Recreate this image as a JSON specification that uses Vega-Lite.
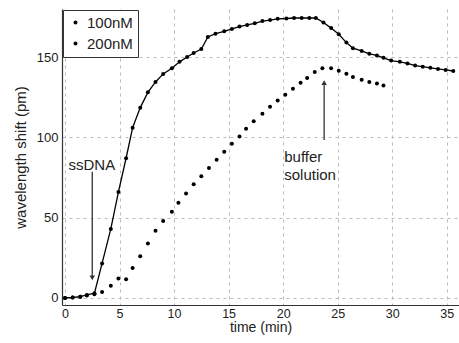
{
  "$schema": "https://vega.github.io/schema/vega-lite/v6.json",
  "width": 397,
  "height": 296,
  "autosize": {"type": "none"},
  "padding": {"left": 62, "top": 9, "right": 0, "bottom": 38},
  "background": "white",
  "config": {
    "view": {"stroke": null},
    "font": "Liberation Sans",
    "axis": {
      "labelFont": "Liberation Sans",
      "labelFontSize": 13,
      "labelColor": "#222",
      "titleFont": "Liberation Sans",
      "titleFontSize": 15,
      "titleFontWeight": "normal",
      "titleColor": "#222",
      "domainColor": "#333",
      "domainWidth": 1.2,
      "tickSize": 0,
      "gridColor": "#bbbbbb",
      "gridDash": [3, 4],
      "gridWidth": 1
    }
  },
  "datasets": {
    "series": [
      {"series": "200nM", "t": 0, "v": 0},
      {"series": "200nM", "t": 0.7, "v": 0.3},
      {"series": "200nM", "t": 1.4, "v": 0.8},
      {"series": "200nM", "t": 2.0, "v": 1.9},
      {"series": "200nM", "t": 2.7, "v": 3.0},
      {"series": "200nM", "t": 3.4, "v": 21.5},
      {"series": "200nM", "t": 4.2, "v": 43},
      {"series": "200nM", "t": 4.9, "v": 66},
      {"series": "200nM", "t": 5.6, "v": 87},
      {"series": "200nM", "t": 6.2, "v": 106},
      {"series": "200nM", "t": 6.9, "v": 118.5},
      {"series": "200nM", "t": 7.6, "v": 128},
      {"series": "200nM", "t": 8.3, "v": 134.5},
      {"series": "200nM", "t": 9.0, "v": 139.5},
      {"series": "200nM", "t": 9.8, "v": 143},
      {"series": "200nM", "t": 10.5, "v": 147},
      {"series": "200nM", "t": 11.2, "v": 150},
      {"series": "200nM", "t": 11.8, "v": 152.5},
      {"series": "200nM", "t": 12.5, "v": 155},
      {"series": "200nM", "t": 13.1, "v": 162.5},
      {"series": "200nM", "t": 13.8, "v": 164.5},
      {"series": "200nM", "t": 14.6, "v": 166},
      {"series": "200nM", "t": 15.3, "v": 167.5},
      {"series": "200nM", "t": 16.0, "v": 169},
      {"series": "200nM", "t": 16.7, "v": 170},
      {"series": "200nM", "t": 17.4, "v": 171},
      {"series": "200nM", "t": 18.1, "v": 172.4},
      {"series": "200nM", "t": 18.8, "v": 173},
      {"series": "200nM", "t": 19.5, "v": 173.8},
      {"series": "200nM", "t": 20.3, "v": 174},
      {"series": "200nM", "t": 21.0, "v": 174.3},
      {"series": "200nM", "t": 21.7, "v": 174.3},
      {"series": "200nM", "t": 22.4, "v": 174.3},
      {"series": "200nM", "t": 23.0, "v": 174.3},
      {"series": "200nM", "t": 23.7, "v": 171.5},
      {"series": "200nM", "t": 24.4, "v": 168},
      {"series": "200nM", "t": 25.1, "v": 164.2},
      {"series": "200nM", "t": 25.8, "v": 159},
      {"series": "200nM", "t": 26.4, "v": 155.5},
      {"series": "200nM", "t": 27.2, "v": 153.8},
      {"series": "200nM", "t": 27.9, "v": 152},
      {"series": "200nM", "t": 28.6, "v": 151},
      {"series": "200nM", "t": 29.2, "v": 149.5},
      {"series": "200nM", "t": 29.9, "v": 147.8},
      {"series": "200nM", "t": 30.7, "v": 147},
      {"series": "200nM", "t": 31.4, "v": 146},
      {"series": "200nM", "t": 32.1, "v": 144.7},
      {"series": "200nM", "t": 32.8, "v": 144},
      {"series": "200nM", "t": 33.5, "v": 143.3},
      {"series": "200nM", "t": 34.2, "v": 142.6},
      {"series": "200nM", "t": 34.9, "v": 142},
      {"series": "200nM", "t": 35.6, "v": 141.3},
      {"series": "100nM", "t": 0, "v": 0},
      {"series": "100nM", "t": 0.7, "v": 0.3},
      {"series": "100nM", "t": 1.4, "v": 0.8},
      {"series": "100nM", "t": 2.0, "v": 1.5},
      {"series": "100nM", "t": 2.7, "v": 2.3},
      {"series": "100nM", "t": 3.4, "v": 3.8},
      {"series": "100nM", "t": 4.2, "v": 7.6},
      {"series": "100nM", "t": 4.9, "v": 12.2},
      {"series": "100nM", "t": 5.6, "v": 11.6},
      {"series": "100nM", "t": 6.2, "v": 18.6},
      {"series": "100nM", "t": 6.9, "v": 26},
      {"series": "100nM", "t": 7.6, "v": 34},
      {"series": "100nM", "t": 8.3, "v": 41.8},
      {"series": "100nM", "t": 9.0, "v": 48},
      {"series": "100nM", "t": 9.8, "v": 53.7},
      {"series": "100nM", "t": 10.4, "v": 59.3},
      {"series": "100nM", "t": 11.1, "v": 65},
      {"series": "100nM", "t": 11.8, "v": 70.8},
      {"series": "100nM", "t": 12.5, "v": 75.8},
      {"series": "100nM", "t": 13.2, "v": 81},
      {"series": "100nM", "t": 13.9, "v": 86},
      {"series": "100nM", "t": 14.6, "v": 91},
      {"series": "100nM", "t": 15.3, "v": 96},
      {"series": "100nM", "t": 16.0, "v": 100.6},
      {"series": "100nM", "t": 16.6, "v": 105.4},
      {"series": "100nM", "t": 17.3, "v": 110},
      {"series": "100nM", "t": 18.1, "v": 114.7},
      {"series": "100nM", "t": 18.8, "v": 119},
      {"series": "100nM", "t": 19.5, "v": 123},
      {"series": "100nM", "t": 20.2, "v": 126.5},
      {"series": "100nM", "t": 20.9, "v": 130.3},
      {"series": "100nM", "t": 21.6, "v": 134},
      {"series": "100nM", "t": 22.2, "v": 137},
      {"series": "100nM", "t": 22.9, "v": 140.7},
      {"series": "100nM", "t": 23.6, "v": 143},
      {"series": "100nM", "t": 24.4, "v": 143},
      {"series": "100nM", "t": 25.1, "v": 141.5},
      {"series": "100nM", "t": 25.8, "v": 139.6},
      {"series": "100nM", "t": 26.4, "v": 137.6},
      {"series": "100nM", "t": 27.2, "v": 135.8},
      {"series": "100nM", "t": 27.9, "v": 134.5},
      {"series": "100nM", "t": 28.6, "v": 133.5},
      {"series": "100nM", "t": 29.2, "v": 132.3}
    ],
    "labels": [
      {"label": "ssDNA", "t": 0.32, "v": 82.8},
      {"label": "buffer", "t": 20.1, "v": 87.7},
      {"label": "solution", "t": 20.1, "v": 76.5}
    ],
    "arrows": [
      {"t": 2.5, "v": 78.6, "v2": 13, "tip": 12.5, "dir": "down"},
      {"t": 23.76, "v": 98.3, "v2": 133, "tip": 134, "dir": "up"}
    ]
  },
  "layer": [
    {
      "data": {"name": "series"},
      "transform": [{"filter": "datum.series === '200nM'"}],
      "mark": {"type": "line", "color": "black", "strokeWidth": 1.3},
      "encoding": {
        "x": {"field": "t", "type": "quantitative", "scale": {"domain": [-0.275, 36.125], "nice": false, "zero": false},
          "axis": {"values": [0, 5, 10, 15, 20, 25, 30, 35], "title": "time (min)", "labelFontSize": 12.5, "labelPadding": 2, "titleFontSize": 14, "titleY": 22, "titleBaseline": "middle"}},
        "y": {"field": "v", "type": "quantitative", "scale": {"domain": [-4.36, 179.9], "nice": false, "zero": false},
          "axis": {"values": [0, 50, 100, 150], "title": "wavelength shift (pm)", "labelPadding": 4, "titleX": -42, "titleBaseline": "middle"}}
      }
    },
    {
      "data": {"name": "series"},
      "mark": {"type": "point", "filled": true, "size": 16, "opacity": 1},
      "encoding": {
        "x": {"field": "t", "type": "quantitative"},
        "y": {"field": "v", "type": "quantitative"},
        "color": {"field": "series", "type": "nominal",
          "scale": {"domain": ["100nM", "200nM"], "range": ["black", "black"]},
          "legend": {
            "title": null, "orient": "none", "legendX": 1, "legendY": 1,
            "strokeColor": "#333", "fillColor": "white", "padding": 5,
            "labelFont": "Liberation Sans", "labelFontSize": 15, "labelColor": "#222",
            "symbolType": "M0.33,0A0.33,0.33 0 1,1 -0.33,0A0.33,0.33 0 1,1 0.33,0Z",
            "symbolSize": 144, "rowPadding": 5, "labelOffset": 4
          }}
      }
    },
    {
      "data": {"name": "arrows"},
      "mark": {"type": "rule", "color": "#333", "strokeWidth": 1.3},
      "encoding": {
        "x": {"field": "t", "type": "quantitative"},
        "y": {"field": "v", "type": "quantitative"},
        "y2": {"field": "v2"}
      }
    },
    {
      "data": {"name": "arrows"},
      "mark": {"type": "point", "filled": true, "size": 30, "color": "#333", "opacity": 1},
      "encoding": {
        "x": {"field": "t", "type": "quantitative"},
        "y": {"field": "tip", "type": "quantitative"},
        "shape": {"field": "dir", "type": "nominal", "scale": {"domain": ["down", "up"], "range": ["triangle-down", "triangle-up"]}, "legend": null}
      }
    },
    {
      "data": {"name": "labels"},
      "mark": {"type": "text", "align": "left", "baseline": "middle", "font": "Liberation Sans", "fontSize": 15, "color": "#222"},
      "encoding": {
        "x": {"field": "t", "type": "quantitative"},
        "y": {"field": "v", "type": "quantitative"},
        "text": {"field": "label"}
      }
    }
  ]
}
